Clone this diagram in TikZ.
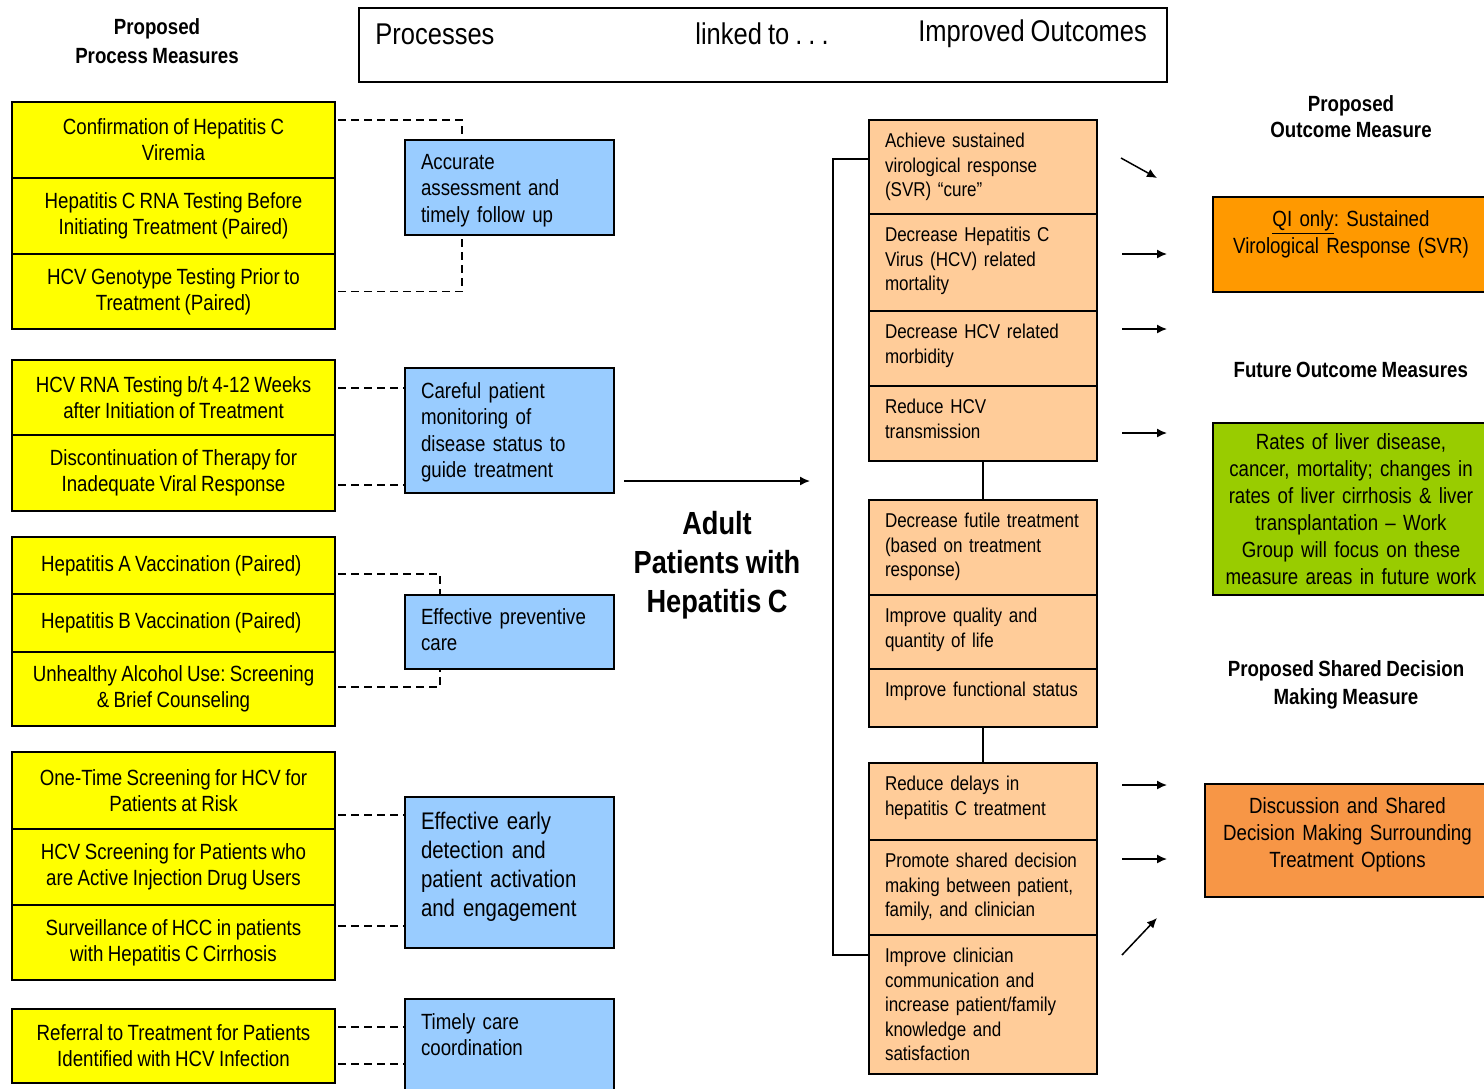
\documentclass[tikz,border=0pt]{standalone}
\usepackage{fontspec}
\setmainfont{Liberation Sans}[FakeStretch=0.85,WordSpace=0.85]
\usepackage{tikz}
\usetikzlibrary{
    arrows.meta,
    positioning,
    calc
}
\definecolor{MeasureYellow}{RGB}{255,255,0}
\definecolor{ProcessBlue}{RGB}{153,204,255}
\definecolor{OutcomePeach}{RGB}{255,204,153}
\definecolor{SvrOrange}{RGB}{255,153,0}
\definecolor{FutureGreen}{RGB}{153,204,0}
\definecolor{SharedOrange}{RGB}{247,150,70}
\frenchspacing

\begin{document}
\begin{tikzpicture}[
    x=0.5pt,
    y=-0.5pt,
    >={Latex[length=5pt,width=4.5pt]},
    measure/.style={
        draw,
        fill=MeasureYellow,
        line width=1pt,
        outer sep=0pt,
        inner sep=0pt,
        minimum width=161.5pt,
        align=center,
        font=\fontsize{11}{13}\selectfont
    },
    process/.style={
        draw,
        fill=ProcessBlue,
        line width=1pt,
        outer sep=0pt,
        inner xsep=8pt,
        inner ysep=0pt,
        text width=88.5pt,
        align=left,
        anchor=north west,
        font=\fontsize{11}{13.25}\selectfont
    },
    outcome/.style={
        draw,
        fill=OutcomePeach,
        line width=1pt,
        outer sep=0pt,
        inner xsep=8pt,
        inner ysep=0pt,
        text width=98pt,
        text height=13.75pt,
        align=left,
        font=\fontsize{10}{12.25}\selectfont
    },
    target/.style={
        draw,
        line width=1pt,
        outer sep=0pt,
        inner sep=0pt,
        anchor=north west,
        align=center,
        font=\fontsize{11}{13.5}\selectfont
    },
    heading/.style={
        align=center,
        font=\bfseries\fontsize{11}{14}\selectfont
    },
    bannertext/.style={
        anchor=west,
        inner sep=0pt,
        font=\fontsize{15}{17}\selectfont
    },
    link/.style={
        line width=0.75pt,
        dash pattern=on 4pt off 2.5pt
    },
    tie/.style={
        line width=1pt
    },
    flow/.style={
        ->,
        line width=0.75pt
    }
]
%
    \useasboundingbox (0,0) rectangle (1484,1088);
    \clip (0,0) rectangle (1484,1088);
%
    % headings
    \node[
        heading,
        font=\bfseries\fontsize{11}{14.5}\selectfont
    ]
    (hproc) at (157,41) {
        Proposed\\Process Measures
    };
%
    \node[
        heading,
        font=\bfseries\fontsize{11}{13}\selectfont
    ]
    (hout) at (1351,117) {
        Proposed\\Outcome Measure
    };
%
    \node[
        heading
    ]
    (hfut) at (1353,370) {
        Future Outcome Measures
    };
%
    \node[
        heading
    ]
    (hsdm) at (1346,685) {
        Proposed Shared Decision\\Making Measure
    };
%
    % banner
    \node[
        draw,
        line width=0.75pt,
        outer sep=0pt,
        anchor=north west,
        minimum width=404pt,
        minimum height=37pt
    ]
    (banner) at (359,8) {};
%
    \node[
        bannertext
    ]
    (bproc) at ($(banner.north west)+(8pt,-13pt)$) {
        Processes
    };
%
    \node[
        bannertext
    ]
    (blink) at ($(banner.north west)+(168pt,-13pt)$) {
        linked to . . .
    };
%
    \node[
        bannertext
    ]
    (bout) at ($(banner.north west)+(279.5pt,-13pt)$) {
        Improved Outcomes
    };
%
    % process measures
    \node[
        measure,
        anchor=north west,
        minimum height=38pt
    ]
    (y1) at (12,102) {
        Confirmation of Hepatitis C\\Viremia
    };
    \node[measure, below=0pt of y1, minimum height=38pt] (y2) {
        Hepatitis C RNA Testing Before\\Initiating Treatment (Paired)
    };
    \node[measure, below=0pt of y2, minimum height=37.5pt] (y3) {
        HCV Genotype Testing Prior to\\Treatment (Paired)
    };
%
    \node[measure, below=15.5pt of y3, minimum height=37.5pt] (y4) {
        HCV RNA Testing b/t 4-12 Weeks\\after Initiation of Treatment
    };
    \node[measure, below=0pt of y4, minimum height=38pt] (y5) {
        Discontinuation of Therapy for\\Inadequate Viral Response
    };
%
    \node[measure, below=13pt of y5, minimum height=28.5pt] (y6) {
        Hepatitis A Vaccination (Paired)
    };
    \node[measure, below=0pt of y6, minimum height=29pt] (y7) {
        Hepatitis B Vaccination (Paired)
    };
    \node[measure, below=0pt of y7, minimum height=37pt] (y8) {
        Unhealthy Alcohol Use: Screening\\\& Brief Counseling
    };
%
    \node[measure, below=13pt of y8, minimum height=38.5pt] (y9) {
        One-Time Screening for HCV for\\Patients at Risk
    };
    \node[measure, below=0pt of y9, minimum height=38pt] (y10) {
        HCV Screening for Patients who\\are Active Injection Drug Users
    };
    \node[measure, below=0pt of y10, minimum height=37.5pt] (y11) {
        Surveillance of HCC in patients\\with Hepatitis C Cirrhosis
    };
%
    \node[measure, below=14.5pt of y11, minimum height=37pt] (y12) {
        Referral to Treatment for Patients\\Identified with HCV Infection
    };
%
    % processes
    \node[
        process,
        text height=14.5pt,
        text depth=33pt
    ]
    (b1) at (405,140) {
        Accurate\\assessment and\\timely follow up
    };
%
    \node[
        process,
        text height=15pt,
        text depth=47.5pt
    ]
    (b2) at (405,368) {
        Careful patient\\monitoring of\\disease status to\\guide treatment
    };
%
    \node[
        process,
        text height=14.5pt,
        text depth=22.5pt
    ]
    (b3) at (405,595) {
        Effective preventive\\care
    };
%
    \node[
        process,
        text height=16.3pt,
        text depth=59.2pt,
        font=\fontsize{12}{14.5}\selectfont
    ]
    (b4) at (405,797) {
        Effective early\\detection and\\patient activation\\and engagement
    };
%
    \node[
        process,
        text height=15pt,
        text depth=33pt
    ]
    (b5) at (405,999) {
        Timely care\\coordination
    };
%
    % dashed links
    \draw[link] ($(y1.north east)+(1.5pt,-9pt)$) -| ($(b1.north west)+(28.5pt,0)$);
    \draw[link] ($(y3.east)+(1.5pt,0)$) -| ($(b1.south west)+(28.5pt,0)$);
    \draw[link] ($(y4.east |- b2.north)+(1.5pt,-10pt)$) -- ($(b2.north west)+(0,-10pt)$);
    \draw[link] ($(y5.east |- b2.south)+(1.5pt,4pt)$) -- ($(b2.south west)+(0,4pt)$);
    \draw[link] ($(y6.east)+(1.5pt,-4.25pt)$) -| ($(b3.north west)+(17.5pt,0)$);
    \draw[link] ($(y8.east)+(1.5pt,1pt)$) -| ($(b3.south west)+(17.5pt,0)$);
    \draw[link] ($(y9.east |- b4.north)+(1.5pt,-9pt)$) -- ($(b4.north west)+(0,-9pt)$);
    \draw[link] ($(y11.east |- b4.south)+(1.5pt,11pt)$) -- ($(b4.south west)+(0,11pt)$);
    \draw[link] ($(y12.east |- b5.north)+(1.5pt,-14pt)$) -- ($(b5.north west)+(0,-14pt)$);
    \draw[link] ($(y12.east |- b5.north)+(1.5pt,-32.5pt)$) -- ($(b5.north west)+(0,-32.5pt)$);
%
    % population
    \node[
        align=center,
        font=\bfseries\fontsize{16}{19.5}\selectfont
    ]
    (adult) at (717,565) {
        Adult\\Patients with\\Hepatitis C
    };
%
    % improved outcomes
    \node[outcome, anchor=north west, text depth=33.25pt] (p1) at (869,120) {
        Achieve sustained\\virological response\\(SVR) ``cure''
    };
    \node[outcome, below=0pt of p1, text depth=34.75pt] (p2) {
        Decrease Hepatitis C\\Virus (HCV) related\\mortality
    };
    \node[outcome, below=0pt of p2, text depth=23.75pt] (p3) {
        Decrease HCV related\\morbidity
    };
    \node[outcome, below=0pt of p3, text depth=23.75pt] (p4) {
        Reduce HCV\\transmission
    };
%
    \node[outcome, below=19.5pt of p4, text depth=33.75pt] (p5) {
        Decrease futile treatment\\(based on treatment\\response)
    };
    \node[outcome, below=0pt of p5, text depth=23.25pt] (p6) {
        Improve quality and\\quantity of life
    };
    \node[outcome, below=0pt of p6, text depth=15.25pt] (p7) {
        Improve functional status
    };
%
    \node[outcome, below=18pt of p7, text depth=24.75pt] (p8) {
        Reduce delays in\\hepatitis C treatment
    };
    \node[outcome, below=0pt of p8, text depth=33.75pt] (p9) {
        Promote shared decision\\making between patient,\\family, and clinician
    };
    \node[outcome, below=0pt of p9, text depth=55.75pt] (p10) {
        Improve clinician\\communication and\\increase patient/family\\knowledge and\\satisfaction
    };
%
    \draw[tie] (p4.south) -- (p5.north);
    \draw[tie] (p7.south) -- (p8.north);
    \draw[tie] ($(p1.west)+(0,4pt)$) -- ++(-18pt,0) |- ($(p10.north west)+(0,-10pt)$);
%
    \draw[
        flow
    ]
    ($(b2.south east)+(5pt,6pt)$)
    --
    ($(b2.south east -| p1.west)+(-29.5pt,6pt)$);
%
    % proposed measures
    \node[
        target,
        fill=SvrOrange,
        text width=138pt,
        text height=14.5pt,
        text depth=33pt
    ]
    (svr) at (1213,197) {
        \underline{QI only}: Sustained\\Virological Response (SVR)
    };
%
    \node[
        target,
        fill=FutureGreen,
        text width=138pt,
        minimum height=86pt
    ]
    (future) at (1213,423) {
        Rates of liver disease,\\cancer, mortality; changes in\\rates of liver cirrhosis \& liver\\transplantation -- Work\\Group will focus on these\\measure areas in future work
    };
%
    \node[
        target,
        fill=SharedOrange,
        text width=142.5pt,
        text height=14.5pt,
        text depth=42pt
    ]
    (sdm) at (1205,784) {
        Discussion and Shared\\Decision Making Surrounding\\Treatment Options
    };
%
    \foreach \src/\dy in {p2/20pt,p3/9pt,p4/23.5pt,p8/11pt,p9/9.5pt}{
        \draw[flow] ($(\src.north east)+(12.5pt,-\dy)$) -- ++(22.5pt,0);
    }
    \draw[flow] ($(p1.north east)+(12pt,-19pt)$) -- ++(18pt,-10pt);
    \draw[flow] ($(p10.north east)+(12.5pt,-10pt)$) -- ++(17.5pt,18.5pt);
%
\end{tikzpicture}
\end{document}
